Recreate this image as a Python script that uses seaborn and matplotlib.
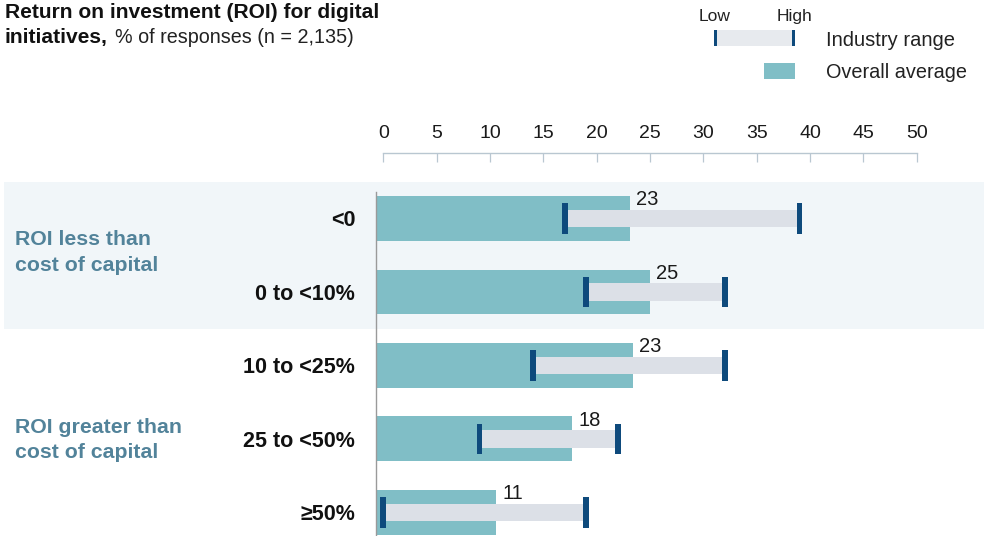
import matplotlib
matplotlib.use("Agg")
import matplotlib.pyplot as plt
import seaborn as sns
import pandas as pd
from matplotlib.patches import Rectangle

# ---------------- data ----------------
categories = ["<0", "0 to <10%", "10 to <25%", "25 to <50%", "≥50%"]
overall_avg = [23.1, 25.0, 23.4, 17.7, 10.6]
industry_low = [17, 19, 14, 9, 0]
industry_high = [39, 32, 32, 22, 19]
x_ticks = [0, 5, 10, 15, 20, 25, 30, 35, 40, 45, 50]
group_lines = [["ROI less than", "cost of capital"], ["ROI greater than", "cost of capital"]]

# ---------------- style ----------------
TEAL = "#80bec6"
RANGE_GRAY = "#dce0e7"
LEG_GRAY = "#e7eaee"
NAVY = "#0e4a7c"
BAND = "#f1f6f9"
AXIS_C = "#b9c7d1"
GROUP_C = "#52839a"
TXT = "#1a1a1a"

sns.set_theme(style="white")
plt.rcParams['font.family'] = ['Liberation Sans', 'DejaVu Sans']

W, H = 984, 536
fig = plt.figure(figsize=(W / 100, H / 100), dpi=100)

x0 = -0.684           # data x of the vertical axis line
ax_top_px = 181.75
ax = fig.add_axes([376 / W, 0, 608 / W, 1 - ax_top_px / H])
ax.set_facecolor("none")

df = pd.DataFrame({"cat": categories, "avg": overall_avg})
sns.barplot(data=df, x="avg", y="cat", orient="h", color=TEAL, saturation=1,
            width=0.612, ax=ax, zorder=2, linewidth=0)
for p in ax.patches:
    w = p.get_width()
    p.set_x(x0)
    p.set_width(w - x0)

ypos = list(range(len(categories)))
rng = [h - l for l, h in zip(industry_low, industry_high)]
ax.barh(ypos, rng, left=industry_low, height=0.238, color=RANGE_GRAY,
        zorder=3, linewidth=0)
tw = 0.53
for i, (l, h) in enumerate(zip(industry_low, industry_high)):
    for v in (l, h):
        ax.barh(i, tw, left=max(v - tw / 2, x0), height=0.41, color=NAVY,
                zorder=4, linewidth=0)

for i, v in enumerate(overall_avg):
    ax.text(v + 0.6, i - 0.18, f"{v:.0f}", fontsize=14.5, color=TXT,
            ha="left", va="baseline", zorder=5)

# band behind first group
ax.axhspan(-0.5, 1.5, xmin=(4 - 376) / 608, xmax=1, color=BAND, zorder=0,
           clip_on=False, lw=0)

ax.set_xlim(x0, (W - 383.3) / 10.67)
ax.set_ylim(4.32, -0.5)
ax.set_xlabel("")
ax.set_ylabel("")

for s in ["right", "bottom"]:
    ax.spines[s].set_visible(False)
ax.spines["left"].set_color("#9a9a9a")
ax.spines["left"].set_linewidth(1.0)
ax.spines["left"].set_bounds(-0.36, 4.32)
ax.spines["top"].set_visible(True)
ax.spines["top"].set_color(AXIS_C)
ax.spines["top"].set_linewidth(1.0)
ax.spines["top"].set_position(("outward", 20.9))
ax.spines["top"].set_bounds(0, 50)

ax.xaxis.tick_top()
ax.set_xticks(x_ticks)
ax.set_xticklabels([str(t) for t in x_ticks])
ax.tick_params(axis="x", direction="in", length=6.5, width=0.9, color=AXIS_C,
               labelsize=14, labelcolor=TXT, pad=7.5)
ax.tick_params(axis="y", length=0, pad=15, labelsize=15.5, labelcolor="#111111")
for t in ax.get_yticklabels():
    t.set_fontweight("bold")

# ---------------- overlay (title, legend, group labels) ----------------
ax2 = fig.add_axes([0, 0, 1, 1], zorder=ax.get_zorder() + 1)
ax2.set_xlim(0, W)
ax2.set_ylim(H, 0)
ax2.axis("off")
ax2.patch.set_alpha(0)

ax2.text(5, 18.5, "Return on investment (ROI) for digital", fontsize=15.1,
         fontweight="bold", color="#111111", va="baseline", ha="left")
t = ax2.text(5, 43, "initiatives,", fontsize=15.1, fontweight="bold",
             color="#111111", va="baseline", ha="left")
fig.canvas.draw()
bb = t.get_window_extent()
xr = ax2.transData.inverted().transform((bb.x1, bb.y0))[0]
ax2.text(xr + 7, 43, "% of responses (n = 2,135)", fontsize=14.2,
         color="#222222", va="baseline", ha="left")

grp_base = [(245, 270.7), (433, 458.5)]
for lines, ys in zip(group_lines, grp_base):
    for txt, yb in zip(lines, ys):
        ax2.text(15, yb, txt, fontsize=15.3, fontweight="bold", color=GROUP_C,
                 va="baseline", ha="left")

# legend
ax2.add_patch(Rectangle((714, 30), 81, 16, color=LEG_GRAY, lw=0))
ax2.add_patch(Rectangle((714, 30), 3, 16, color=NAVY, lw=0))
ax2.add_patch(Rectangle((792, 30), 3, 16, color=NAVY, lw=0))
ax2.add_patch(Rectangle((764, 63), 31, 16, color=TEAL, lw=0))
ax2.text(715, 21, "Low", fontsize=12.5, color="#222222", ha="center", va="baseline")
ax2.text(794, 21, "High", fontsize=12.5, color="#222222", ha="center", va="baseline")
ax2.text(826, 45.5, "Industry range", fontsize=14.5, color="#222222", ha="left", va="baseline")
ax2.text(826, 77.5, "Overall average", fontsize=14.3, color="#222222", ha="left", va="baseline")

fig.savefig("out.png", dpi=100)
